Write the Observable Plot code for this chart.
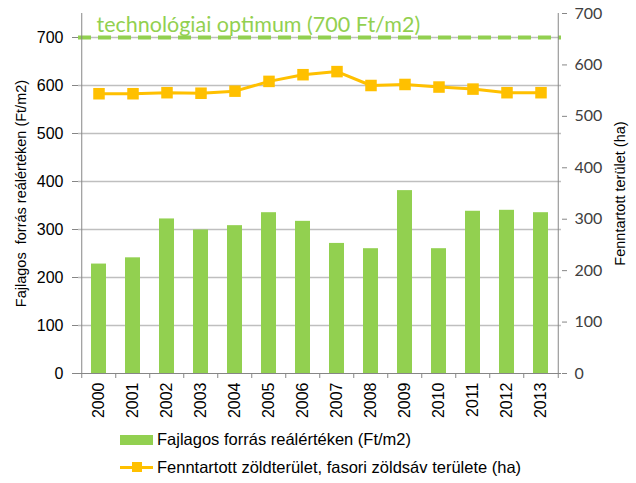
<!DOCTYPE html>
<html>
<head>
<meta charset="utf-8">
<script src="https://cdn.jsdelivr.net/npm/d3@7"></script>
<script src="https://cdn.jsdelivr.net/npm/@observablehq/plot@0.6"></script>
<style>
  html, body { margin: 0; padding: 0; background: #fff; }
  #wrap { width: 636px; height: 483px; position: relative; font-family: "Liberation Sans", Arial, sans-serif; }
  .legend { position: absolute; left: 120px; font-size: 16.5px; color: #000; display: flex; align-items: center; }
  .sw { width: 33px; height: 10px; background: #92D050; margin-right: 4px; }
  .ln { width: 33px; height: 3px; background: #FFC000; margin-right: 4px; position: relative; }
  .ln::after { content: ""; position: absolute; left: 12px; top: -4px; width: 10px; height: 10px; background: #FFC000; }
</style>
</head>
<body>
<div id="wrap">
  <div id="chart"></div>
  <div class="legend" style="top:430px"><div class="sw"></div><span id="lg1"></span></div>
  <div class="legend" style="top:458px"><div class="ln"></div><span id="lg2"></span></div>
</div>
<script>
const years = ["2000","2001","2002","2003","2004","2005","2006","2007","2008","2009","2010","2011","2012","2013"];
const funding = [228, 241, 322, 299, 308, 335, 317, 271, 260, 381, 260, 338, 340, 335];
const area = [544, 544, 546, 545, 549, 568, 581, 587, 560, 562, 557, 553, 546, 546];
const optimum = 700;
const optimumLabel = "technológiai optimum (700 Ft/m2)";
const leftTicks = [0, 100, 200, 300, 400, 500, 600, 700];
const rightTicks = [0, 100, 200, 300, 400, 500, 600, 700];
const leftMax = 750;
const rightMax = 700;
const leftTitle = "Fajlagos  forrás reálértéken (Ft/m2)";
const rightTitle = "Fenntartott terület (ha)";
const seriesNames = ["Fajlagos forrás reálértéken (Ft/m2)", "Fenntartott zöldterület, fasori zöldsáv területe (ha)"];

document.getElementById("lg1").textContent = seriesNames[0];
document.getElementById("lg2").textContent = seriesNames[1];

const data = years.map((year, i) => ({year, funding: funding[i], area: area[i]}));
const k = leftMax / rightMax;

const W = 636, H = 425, mL = 78, mR = 75, mT = 13, mB = 52;
const step = (W - mL - mR) / years.length;
const pxPerUnit = (H - mT - mB) / leftMax;
const tickLen = 5 / pxPerUnit;
const axisColor = "#868686";

const chart = Plot.plot({
  width: W, height: H,
  marginTop: mT, marginBottom: mB, marginLeft: mL, marginRight: mR,
  x: {domain: years, paddingInner: 0.56, paddingOuter: 0.28, axis: null},
  y: {domain: [0, leftMax], axis: null},
  style: {fontFamily: "'Liberation Sans', Arial, sans-serif", fontSize: "15px", color: "#000", background: "#fff", overflow: "visible"},
  marks: [
    Plot.ruleY(leftTicks.filter(t => t > 0), {stroke: "#bfbfbf", strokeWidth: 1.3}),
    Plot.barY(data, {x: "year", y: "funding", fill: "#92D050"}),
    Plot.ruleY([optimum], {stroke: "#92D050", strokeWidth: 4, strokeDasharray: "13,7"}),
    Plot.line(data, {x: "year", y: d => d.area * k, stroke: "#FFC000", strokeWidth: 3}),
    Plot.dot(data, {x: "year", y: d => d.area * k, symbol: "square", r: 6.5, fill: "#FFC000", stroke: "none"}),
    // axis lines
    Plot.ruleY([0], {stroke: axisColor}),
    Plot.ruleX([years[0]], {y1: 0, y2: leftMax, dx: -step / 2, stroke: axisColor}),
    Plot.ruleX([years[years.length - 1]], {y1: -tickLen, y2: leftMax, dx: step / 2, stroke: axisColor}),
    Plot.ruleX(years, {y1: 0, y2: -tickLen, dx: -step / 2, stroke: axisColor}),
    // left axis
    Plot.axisY(leftTicks, {anchor: "left", tickSize: 6, tickPadding: 9, stroke: axisColor, fill: "#000", label: null, fontSize: 16}),
    // right axis
    Plot.axisY(rightTicks.map(t => t * k), {anchor: "right", tickSize: 5, tickPadding: 8, stroke: axisColor, fill: "#404040", label: null, tickFormat: d => String(Math.round(d / k)), fontFamily: "Lato", fontSize: 16}),
    // x axis labels
    Plot.axisX({tickSize: 0, tickRotate: -90, tickPadding: 9, label: null, fontSize: 16, fill: "#000"}),
    // titles
    Plot.text([leftTitle], {frameAnchor: "left", textAnchor: "middle", rotate: -90, dx: -57, fontSize: 14.5, fill: "#000"}),
    Plot.text([rightTitle], {frameAnchor: "right", textAnchor: "middle", rotate: -90, dx: 59, dy: 0, fontSize: 14.5, fill: "#000"}),
    Plot.text([optimumLabel], {frameAnchor: "top-left", textAnchor: "start", lineAnchor: "middle", dx: 18, dy: 12, fontSize: 21.5, fill: "#92D050", fontFamily: "Lato"})
  ]
});
document.getElementById("chart").appendChild(chart);
</script>
</body>
</html>
